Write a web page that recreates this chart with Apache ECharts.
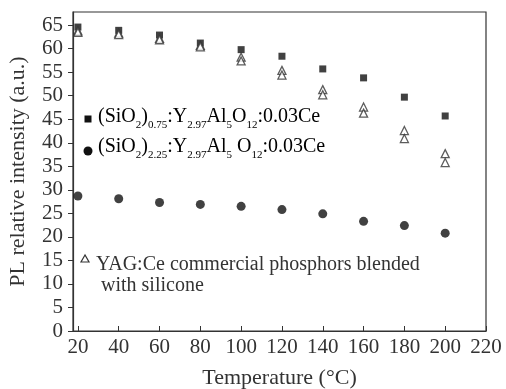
<!DOCTYPE html>
<html>
<head>
<meta charset="utf-8">
<script src="https://cdn.jsdelivr.net/npm/echarts@6/dist/echarts.min.js"></script>
<style>html,body{margin:0;padding:0;background:#fff;}#c{width:506px;height:389px;}</style>
</head>
<body>
<div id="c"></div>
<script>
var temps = [20, 40, 60, 80, 100, 120, 140, 160, 180, 200];
var sio075 = [64.6, 63.9, 62.9, 61.2, 59.8, 58.4, 55.7, 53.8, 49.7, 45.7];
var sio225 = [28.7, 28.1, 27.3, 26.9, 26.5, 25.8, 24.9, 23.3, 22.4, 20.8];
var yagA = [63.8, 63.3, 62.2, 60.7, 58.2, 55.4, 51.3, 47.6, 42.6, 37.7];
var yagB = [63.5, 63.0, 61.9, 60.4, 57.4, 54.4, 50.2, 46.3, 40.9, 35.8];
var xTicks = [20, 40, 60, 80, 100, 120, 140, 160, 180, 200, 220];
var yTicks = [0, 5, 10, 15, 20, 25, 30, 35, 40, 45, 50, 55, 60, 65];

function pairs(ys) { return temps.map(function (t, i) { return [t, ys[i]]; }); }

var FONT = 'Liberation Serif';
var TXT = '#333';
var chart = echarts.init(document.getElementById('c'));
var rich = {
  m: { fontFamily: FONT, fontSize: 20, color: TXT, lineHeight: 22 },
  s: { fontFamily: FONT, fontSize: 11, color: TXT, verticalAlign: 'bottom', lineHeight: 22, padding: [0, 0, -3, 0] }
};
chart.setOption({
  animation: false,
  grid: { left: 73, top: 12, right: 20, bottom: 58, containLabel: false, outerBoundsMode: 'none', show: true, borderColor: '#333', borderWidth: 1.2, backgroundColor: 'transparent' },
  xAxis: {
    type: 'value', min: 17.6, max: 220,
    name: 'Temperature (°C)', nameLocation: 'middle', nameGap: 36,
    nameTextStyle: { fontFamily: FONT, fontSize: 22, color: TXT },
    axisLine: { lineStyle: { color: '#333', width: 1.2 } },
    axisTick: { inside: true, length: 5, lineStyle: { color: '#333' }, customValues: xTicks },
    axisLabel: { fontFamily: FONT, fontSize: 21, color: TXT, margin: 6, customValues: xTicks },
    splitLine: { show: false }
  },
  yAxis: {
    type: 'value', min: 0, max: 67.8,
    name: 'PL relative intensity (a.u.)', nameLocation: 'middle', nameGap: 44,
    nameTextStyle: { fontFamily: FONT, fontSize: 22, color: TXT },
    axisLine: { show: true, lineStyle: { color: '#333', width: 1.2 } },
    axisTick: { show: true, inside: false, length: 5, lineStyle: { color: '#333' }, customValues: yTicks },
    axisLabel: { fontFamily: FONT, fontSize: 21, color: TXT, margin: 10, customValues: yTicks },
    splitLine: { show: false }
  },
  graphic: [
    { type: 'rect', shape: { x: 84.5, y: 115.5, width: 7, height: 7 }, style: { fill: '#111' } },
    { type: 'circle', shape: { cx: 88, cy: 151, r: 4.5 }, style: { fill: '#111' } },
    { type: 'polygon', shape: { points: [[85, 255], [81, 262], [89, 262]] }, style: { fill: '#fff', stroke: '#333', lineWidth: 1.2 } },
    { type: 'text', left: 98, top: 107, style: { text: '{m|(SiO}{s|2}{m|)}{s|0.75}{m|:Y}{s|2.97}{m|Al}{s|5}{m|O}{s|12}{m|:0.03Ce}', rich: rich } },
    { type: 'text', left: 98, top: 137, style: { text: '{m|(SiO}{s|2}{m|)}{s|2.25}{m|:Y}{s|2.97}{m|Al}{s|5}{m| O}{s|12}{m|:0.03Ce}', rich: rich } },
    { type: 'text', left: 96, top: 254, style: { text: 'YAG:Ce commercial phosphors blended\n with silicone', fontFamily: FONT, fontSize: 20, lineHeight: 21, fill: TXT } }
  ],
  series: [
    { type: 'scatter', data: pairs(yagA), symbol: 'triangle', symbolSize: [8, 8], itemStyle: { color: '#fff', borderColor: '#333', borderWidth: 1.3 }, z: 3 },
    { type: 'scatter', data: pairs(yagB), symbol: 'triangle', symbolSize: [8, 8], itemStyle: { color: '#fff', borderColor: '#333', borderWidth: 1.3 }, z: 3 },
    { type: 'scatter', data: pairs(sio075), symbol: 'rect', symbolSize: 7, itemStyle: { color: '#111' }, z: 2 },
    { type: 'scatter', data: pairs(sio225), symbol: 'circle', symbolSize: 9, itemStyle: { color: '#111' }, z: 2 }
  ]
});
</script>
</body>
</html>
